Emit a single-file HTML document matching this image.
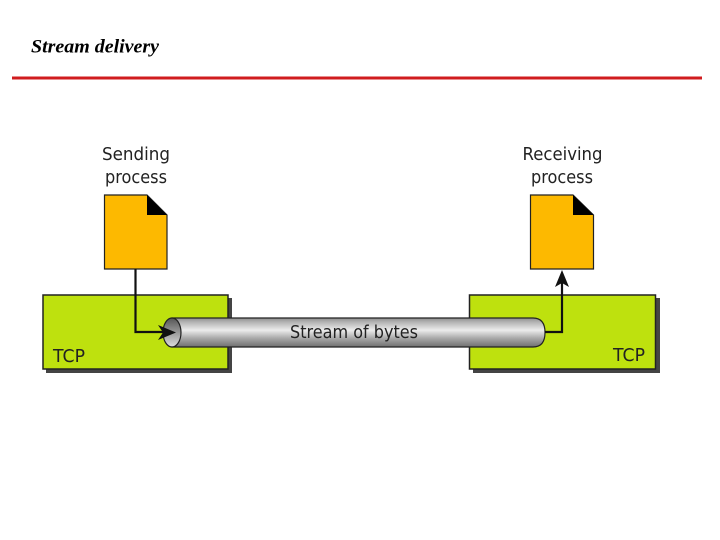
<!DOCTYPE html>
<html>
<head>
<meta charset="utf-8">
<style>
html,body{margin:0;padding:0;background:#fff;width:720px;height:540px;overflow:hidden}
svg{display:block}
text{font-family:"DejaVu Sans","Liberation Sans",sans-serif;fill:#222}
</style>
</head>
<body>
<svg width="720" height="540" viewBox="0 0 720 540" xmlns="http://www.w3.org/2000/svg">
<defs>
<linearGradient id="pipe" x1="0" y1="0" x2="0" y2="1">
<stop offset="0" stop-color="#8f8f8f"/>
<stop offset="0.15" stop-color="#b5b5b5"/>
<stop offset="0.42" stop-color="#ececec"/>
<stop offset="0.7" stop-color="#a8a8a8"/>
<stop offset="1" stop-color="#6f6f6f"/>
</linearGradient>
<linearGradient id="hole" x1="0" y1="0" x2="0" y2="1">
<stop offset="0" stop-color="#555"/>
<stop offset="0.5" stop-color="#999"/>
<stop offset="1" stop-color="#ddd"/>
</linearGradient>
</defs>

<text x="31" y="52.500" textLength="128" lengthAdjust="spacingAndGlyphs" style="font-family:'Liberation Serif',serif;font-weight:bold;font-style:italic;font-size:19px;fill:#000">Stream delivery</text>
<rect x="12" y="76.5" width="690" height="3" fill="#d01c1f"/>

<!-- TCP boxes -->
<rect x="46" y="298" width="186" height="75" fill="#444"/>
<rect x="43" y="295" width="185" height="74" fill="#bee10e" stroke="#222" stroke-width="1.5"/>
<rect x="473" y="298" width="187" height="75" fill="#444"/>
<rect x="469.500" y="295" width="186" height="74" fill="#bee10e" stroke="#222" stroke-width="1.5"/>

<!-- pipe -->
<path d="M172 318 H533 Q545 318 545 332.500 Q545 347 533 347 H172 Z" fill="url(#pipe)" stroke="#222" stroke-width="1.2"/>
<ellipse cx="172" cy="332.500" rx="9" ry="14.500" fill="url(#hole)" stroke="#222" stroke-width="1.2"/>

<!-- documents -->
<path d="M104.500 195 H147 L167 215 V269 H104.500 Z" fill="#fdb900" stroke="#222" stroke-width="1.2"/>
<path d="M147 195 L167 215 H147 Z" fill="#000"/>
<path d="M530.500 195 H573 L593.500 215 V269 H530.500 Z" fill="#fdb900" stroke="#222" stroke-width="1.2"/>
<path d="M573 195 L593.500 215 H573 Z" fill="#000"/>

<!-- connectors -->
<path d="M135.500 269 V332 H165" fill="none" stroke="#111" stroke-width="2.200"/>
<path d="M176 332.500 L158 325 L163 332.500 L158 340 Z" fill="#111"/>
<path d="M545 332 H562 V280" fill="none" stroke="#111" stroke-width="2.200"/>
<path d="M562 270 L555 287 L562 283 L569 287 Z" fill="#111"/>

<!-- labels -->
<g font-size="18">
<text x="102" y="160" textLength="68" lengthAdjust="spacingAndGlyphs">Sending</text>
<text x="105" y="183" textLength="62" lengthAdjust="spacingAndGlyphs">process</text>
<text x="522.500" y="160" textLength="80" lengthAdjust="spacingAndGlyphs">Receiving</text>
<text x="531" y="183" textLength="62" lengthAdjust="spacingAndGlyphs">process</text>
<text x="290" y="338" textLength="128" lengthAdjust="spacingAndGlyphs">Stream of bytes</text>
<text x="53" y="362" textLength="32" lengthAdjust="spacingAndGlyphs">TCP</text>
<text x="613" y="361" textLength="32" lengthAdjust="spacingAndGlyphs">TCP</text>
</g>
</svg>
</body>
</html>
